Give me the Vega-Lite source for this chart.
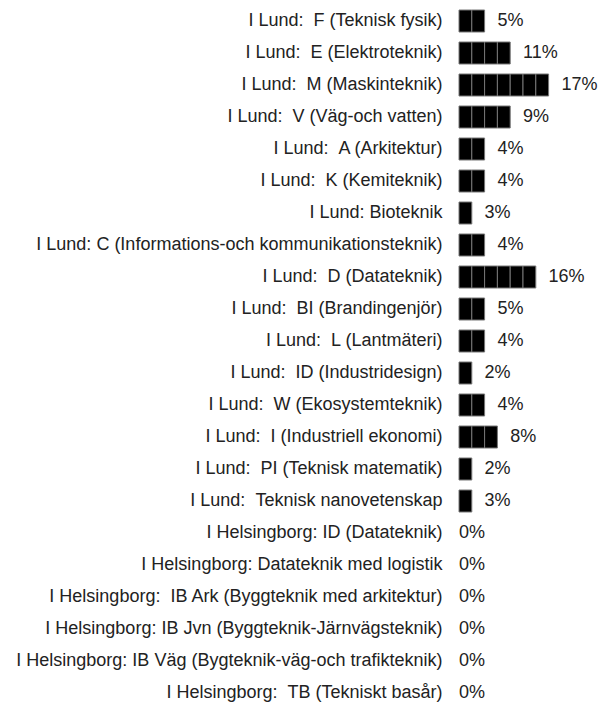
{
  "$schema": "https://vega.github.io/schema/vega-lite/v6.json",
  "autosize": "none",
  "padding": {"left": 459, "top": 5, "right": 14, "bottom": 0},
  "width": 128,
  "height": 704,
  "background": "white",
  "data": {
    "values": [
      {"label": "I Lund: \u00a0F (Teknisk fysik)", "pct": 5, "blocks": [1, 2]},
      {"label": "I Lund: \u00a0E (Elektroteknik)", "pct": 11, "blocks": [1, 2, 3, 4]},
      {"label": "I Lund: \u00a0M (Maskinteknik)", "pct": 17, "blocks": [1, 2, 3, 4, 5, 6, 7]},
      {"label": "I Lund: \u00a0V (Väg-och vatten)", "pct": 9, "blocks": [1, 2, 3, 4]},
      {"label": "I Lund: \u00a0A (Arkitektur)", "pct": 4, "blocks": [1, 2]},
      {"label": "I Lund: \u00a0K (Kemiteknik)", "pct": 4, "blocks": [1, 2]},
      {"label": "I Lund: Bioteknik", "pct": 3, "blocks": [1]},
      {"label": "I Lund: C (Informations-och kommunikationsteknik)", "pct": 4, "blocks": [1, 2]},
      {"label": "I Lund: \u00a0D (Datateknik)", "pct": 16, "blocks": [1, 2, 3, 4, 5, 6]},
      {"label": "I Lund: \u00a0BI (Brandingenjör)", "pct": 5, "blocks": [1, 2]},
      {"label": "I Lund: \u00a0L (Lantmäteri)", "pct": 4, "blocks": [1, 2]},
      {"label": "I Lund: \u00a0ID (Industridesign)", "pct": 2, "blocks": [1]},
      {"label": "I Lund: \u00a0W (Ekosystemteknik)", "pct": 4, "blocks": [1, 2]},
      {"label": "I Lund: \u00a0I (Industriell ekonomi)", "pct": 8, "blocks": [1, 2, 3]},
      {"label": "I Lund: \u00a0PI (Teknisk matematik)", "pct": 2, "blocks": [1]},
      {"label": "I Lund: \u00a0Teknisk nanovetenskap", "pct": 3, "blocks": [1]},
      {"label": "I Helsingborg: ID (Datateknik)", "pct": 0, "blocks": []},
      {"label": "I Helsingborg: Datateknik med logistik", "pct": 0, "blocks": []},
      {"label": "I Helsingborg: \u00a0IB Ark (Byggteknik med arkitektur)", "pct": 0, "blocks": []},
      {"label": "I Helsingborg: IB Jvn (Byggteknik-Järnvägsteknik)", "pct": 0, "blocks": []},
      {"label": "I Helsingborg: IB Väg (Bygteknik-väg-och trafikteknik)", "pct": 0, "blocks": []},
      {"label": "I Helsingborg: \u00a0TB (Tekniskt basår)", "pct": 0, "blocks": []}
    ]
  },
  "encoding": {
    "y": {
      "field": "label",
      "type": "nominal",
      "sort": null,
      "scale": {"paddingInner": 0.3125, "paddingOuter": 0.15625},
      "axis": {
        "title": null,
        "ticks": false,
        "domain": false,
        "labelPadding": 17,
        "labelFontSize": 18,
        "labelFont": "Liberation Sans",
        "labelColor": "#222222",
        "labelLimit": 600
      }
    }
  },
  "layer": [
    {
      "transform": [
        {"calculate": "length(datum.blocks) > 0 ? length(datum.blocks) + 1 : 0", "as": "textpos"},
        {"calculate": "datum.pct + '%'", "as": "pctlabel"}
      ],
      "mark": {"type": "text", "align": "left", "baseline": "middle", "fontSize": 18, "font": "Liberation Sans", "color": "#222222"},
      "encoding": {
        "x": {"field": "textpos", "type": "quantitative", "scale": {"domain": [0, 10], "nice": false, "zero": true}, "axis": null},
        "text": {"field": "pctlabel", "type": "nominal"}
      }
    },
    {
      "transform": [{"flatten": ["blocks"], "as": ["b"]}],
      "mark": {"type": "bar", "color": "#000000", "stroke": "#777777", "strokeWidth": 1},
      "encoding": {
        "x": {"aggregate": "count", "type": "quantitative", "stack": "zero", "axis": null},
        "detail": {"field": "b", "type": "nominal"}
      }
    }
  ],
  "config": {"view": {"stroke": null}}
}
